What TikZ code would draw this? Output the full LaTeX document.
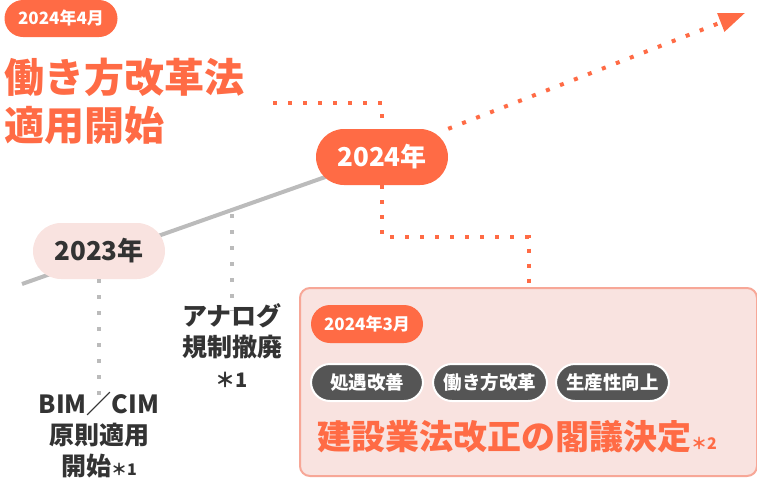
\documentclass[tikz,border=0pt]{standalone}
\usepackage{fontspec}
\setmainfont{Noto Sans CJK JP}
\usetikzlibrary{arrows.meta,backgrounds,positioning}

\definecolor{accent}{HTML}{FF6B45}
\definecolor{blush}{HTML}{F9E3E0}
\definecolor{rim}{HTML}{F7A797}
\definecolor{slate}{HTML}{555555}
\definecolor{ink}{HTML}{333333}
\definecolor{rail}{HTML}{BBBBBB}

\tikzset{
  tag/.style={fill=accent, text=white, inner sep=0pt, rounded corners=19pt,
    minimum width=112, minimum height=38, font=\fontsize{17}{17}\selectfont\bfseries},
  yearpill/.style={inner sep=0pt, rounded corners=28pt, minimum width=132,
    minimum height=56, font=\fontsize{26}{26}\selectfont\bfseries},
  chip/.style={fill=slate, draw=white, line width=2pt, text=white, inner sep=0pt,
    rounded corners=19pt, minimum width=112, minimum height=37,
    font=\fontsize{18.5}{18.5}\selectfont\bfseries},
  note/.style={text=ink, align=center, inner sep=0pt,
    font=\fontsize{25}{31}\selectfont\bfseries},
  orangedot/.style={accent, line width=4pt, dash pattern=on 4pt off 11pt},
  graydot/.style={rail, line width=3.5pt, dash pattern=on 3.5pt off 12.5pt},
}

\begin{document}
\begin{tikzpicture}[x=1pt, y=-1pt]
\useasboundingbox (0,0) rectangle (757,477);

% headline
\node[tag, minimum width=113, minimum height=37, rounded corners=18.5pt] (apr) at (61,18.5) {2024年4月};
\node[anchor=north west, align=left, text=accent, inner sep=0pt,
  font=\fontsize{40}{48}\selectfont\bfseries] (reform) at (4,58) {働き方改革法\\適用開始};
\coordinate (reformdot) at (273,103);

% years
\node[yearpill, fill=accent, text=white] (y2024) at (382,157) {2024年};
\node[yearpill, fill=blush, text=ink] (y2023) at (99,251) {2023年};
\coordinate (railstart) at (22,284);
\coordinate (trend) at (745,13);
\coordinate (analogfoot) at (232,214);

% notes
\node[note, anchor=north] (analog) at (232,303) {アナログ\\規制撤廃\\{\fontsize{20}{20}\selectfont ＊1}};
\node[note, anchor=north] (bim) at (99,392) {BIM／CIM\\原則適用\\開始{\fontsize{16}{16}\selectfont ＊1}};

% panel
\node[draw=rim, fill=blush, line width=2pt, rounded corners=10pt, inner sep=0pt,
  minimum width=457, minimum height=188, anchor=north west] (box) at (299,287) {};
\node[tag] (mar) at (367,324) {2024年3月};
\node[chip] (wage) at (367,382.5) {処遇改善};
\node[chip, minimum width=114] (style) at (490,382.5) {働き方改革};
\node[chip, minimum width=113] (yield) at (612.5,382.5) {生産性向上};
\node[anchor=base west, text=accent, inner sep=0pt,
  font=\fontsize{34}{34}\selectfont\bfseries] (decision) at (317,449)
  {建設業法改正の閣議決定{\fontsize{16}{16}\selectfont ＊2}};

% connectors
\begin{scope}[on background layer]
\draw[rail, line width=4pt] (railstart) -- (y2024.center); % timeline
\end{scope}
\draw[orangedot] (reformdot) -| (y2024.north);
\draw[orangedot] (y2024.south) -- ++(0,52) -| (box.north);
\draw[orangedot, -{Triangle[length=26pt,width=19pt]}] (y2024.north east) -- (trend); % trend arrow
\draw[graydot] (y2023.south) -- ([yshift=-13pt]bim.north);
\draw[graydot] (analogfoot) -- ([yshift=-8pt]analog.north);
\end{tikzpicture}
\end{document}
